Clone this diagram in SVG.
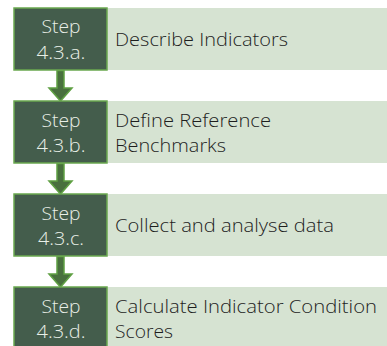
<svg xmlns="http://www.w3.org/2000/svg" width="387" height="346" viewBox="0 0 387 346">
<style>
.step{fill:#445d4c;stroke:#6aa84f;stroke-width:1.5}
.lbl{fill:#d6e3d2}
.st{font-family:"Open Sans",Lato,sans-serif;font-weight:300;font-size:18px;fill:#e9efe7;text-anchor:middle}
.tx{font-family:"Open Sans",Lato,sans-serif;font-weight:300;font-size:18px;fill:#1e1e1e}
.arr{fill:#49703e;stroke:#5fa043;stroke-width:1.5;stroke-linejoin:miter}
</style>
<rect width="387" height="346" fill="#ffffff"/>
<g id="connectors">
<polygon class="arr" points="57,70.5 64,70.5 64,88 72,88 60.5,101 49,88 57,88"/>
<polygon class="arr" points="57,163.5 64,163.5 64,181 72,181 60.5,194 49,181 57,181"/>
<polygon class="arr" points="57,256.5 64,256.5 64,274 72,274 60.5,287 49,274 57,274"/>
</g>
<g id="step-a">
<rect class="lbl" x="107" y="8" width="280" height="62"/>
<rect class="step" x="14" y="8" width="93" height="62"/>
<text class="st" x="61" y="33" textLength="39" lengthAdjust="spacingAndGlyphs">Step</text>
<text class="st" x="61" y="59" textLength="49" lengthAdjust="spacingAndGlyphs">4.3.a.</text>
<text class="tx" x="115" y="46" textLength="173" lengthAdjust="spacingAndGlyphs">Describe Indicators</text>
</g>
<g id="step-b">
<rect class="lbl" x="107" y="101" width="280" height="62"/>
<rect class="step" x="14" y="101" width="93" height="62"/>
<text class="st" x="61" y="127" textLength="39" lengthAdjust="spacingAndGlyphs">Step</text>
<text class="st" x="61" y="152" textLength="49" lengthAdjust="spacingAndGlyphs">4.3.b.</text>
<text class="tx" x="115" y="127" textLength="156" lengthAdjust="spacingAndGlyphs">Define Reference</text>
<text class="tx" x="115" y="152" textLength="111" lengthAdjust="spacingAndGlyphs">Benchmarks</text>
</g>
<g id="step-c">
<rect class="lbl" x="107" y="194" width="280" height="62"/>
<rect class="step" x="14" y="194" width="93" height="62"/>
<text class="st" x="61" y="220" textLength="39" lengthAdjust="spacingAndGlyphs">Step</text>
<text class="st" x="61" y="245" textLength="46" lengthAdjust="spacingAndGlyphs">4.3.c.</text>
<text class="tx" x="115" y="232" textLength="219" lengthAdjust="spacingAndGlyphs">Collect and analyse data</text>
</g>
<g id="step-d">
<rect class="lbl" x="107" y="287" width="280" height="62"/>
<rect class="step" x="14" y="287" width="93" height="62"/>
<text class="st" x="61" y="313" textLength="39" lengthAdjust="spacingAndGlyphs">Step</text>
<text class="st" x="61" y="338" textLength="49" lengthAdjust="spacingAndGlyphs">4.3.d.</text>
<text class="tx" x="115" y="313" textLength="262" lengthAdjust="spacingAndGlyphs">Calculate Indicator Condition</text>
<text class="tx" x="115" y="338" textLength="58" lengthAdjust="spacingAndGlyphs">Scores</text>
</g>
</svg>
